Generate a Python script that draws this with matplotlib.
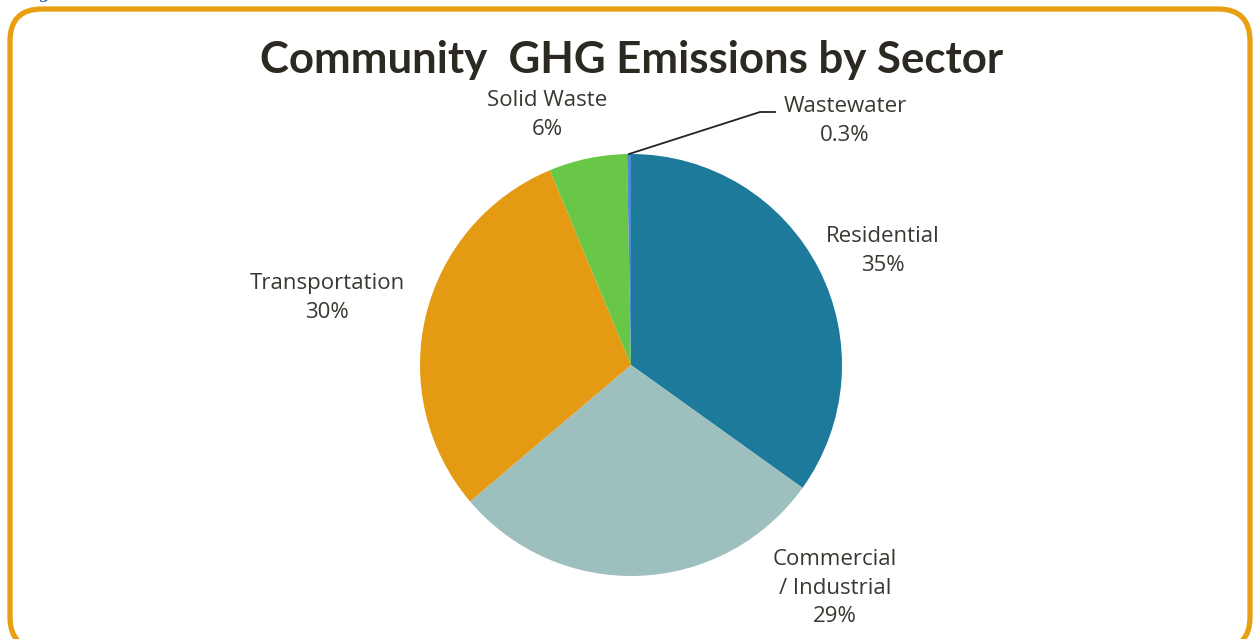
import numpy as np
import matplotlib.pyplot as plt
from matplotlib.patches import FancyBboxPatch

# sector shares, clockwise from 12 o'clock
sectors = ['Residential', 'Commercial\n/ Industrial', 'Transportation', 'Solid Waste', 'Wastewater']
shares = [35, 29, 30, 6, 0.3]
share_text = ['35%', '29%', '30%', '6%', '0.3%']
colors = ['#1d7a9b', '#9dbfbe', '#e59a13', '#68c746', '#4f8ad0']

W, H = 1254, 639
fig = plt.figure(figsize=(W / 100, H / 100), dpi=100)
ax = fig.add_axes([0, 0, 1, 1])

text_col = '#3b3731'

# rounded orange frame
frame = FancyBboxPatch((10, -10), 1240, 640, boxstyle='round,pad=0,rounding_size=32',
                       fc='white', ec='#e8a012', lw=3.8, zorder=0)
ax.add_patch(frame)

cx, cy, r = 631, H - 365, 211
wedges, _ = ax.pie(shares, colors=colors, startangle=90, counterclock=False,
                   center=(cx, cy), radius=r, wedgeprops=dict(linewidth=0))

# label anchor points (pixels from top-left)
label_pos = [(883, 251), (835, 588), (327, 298), (547, 115), (845, 121)]
for name, pct, (x, y) in zip(sectors, share_text, label_pos):
    ax.text(x, H - y, f'{name}\n{pct}', ha='center', va='center', fontsize=16,
            family='Open Sans', color=text_col, linespacing=1.45)

# leader line for the thin wastewater slice
w = wedges[4]
mid = np.deg2rad((w.theta1 + w.theta2) / 2)
sx, sy = cx + r * np.cos(mid), cy + r * np.sin(mid)
ax.plot([sx, 760, 775], [sy, H - 112, H - 112], color='#222222', lw=1.3)

ax.text(632, H - 60, 'Community  GHG Emissions by Sector', ha='center', va='center',
        fontsize=31.5, fontweight='bold', family='Lato', color='#2b2922')

# caption sits mostly above the top edge
ax.text(22, H + 5, 'Figure 3', ha='left', va='center', fontsize=11,
        family='DejaVu Serif', color='#2f5f9e', fontweight='bold')

ax.set_xlim(0, W)
ax.set_ylim(0, H)
ax.set_aspect('auto')
ax.axis('off')

fig.savefig('out.png', dpi=100)
